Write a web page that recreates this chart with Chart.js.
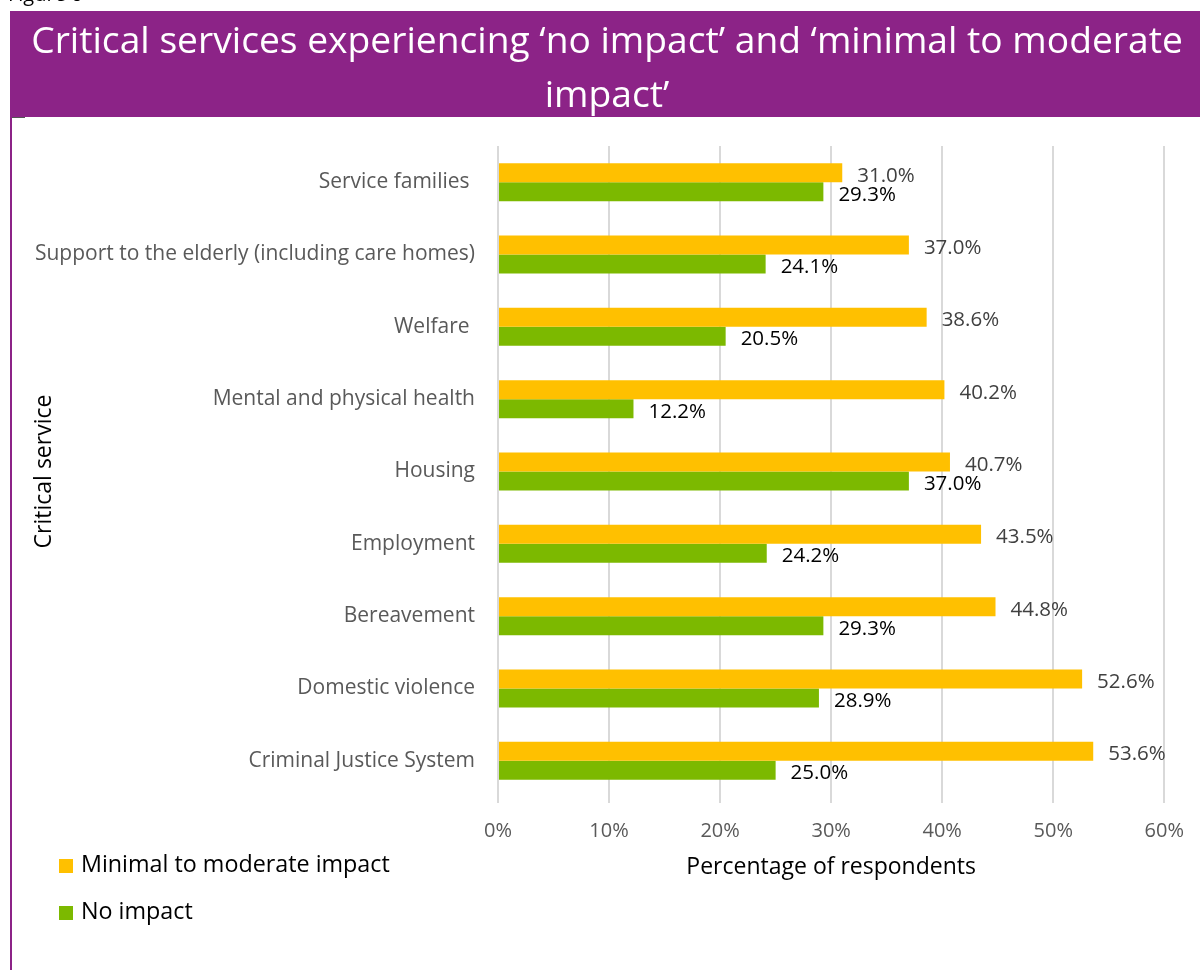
<!DOCTYPE html>
<html>
<head>
<meta charset="utf-8">
<script src="https://cdn.jsdelivr.net/npm/chart.js@4"></script>
<style>
  html, body { margin: 0; padding: 0; background: #fff; overflow: hidden; }
  body { width: 1200px; height: 970px; position: relative; font-family: "Open Sans", sans-serif; }
  #caption { position: absolute; left: 8px; top: -16px; font-size: 20px; line-height: 20px; color: #000; z-index: 1; }
  #header {
    position: absolute; left: 4px; top: 11px; width: 1206px; height: 106px;
    background: #8C2387; color: #fff; text-align: center;
    font-size: 37.2px; line-height: 54px; padding-top: 1px; box-sizing: border-box; z-index: 2;
  }
  #headerPad { position: absolute; left: 0; top: 0; width: 10px; height: 117px; background: #fff; z-index: 3; }
  #leftRule { position: absolute; left: 10px; top: 117px; width: 2px; height: 853px; background: #8C2387; z-index: 2; }
  #stub { position: absolute; left: 12px; top: 117px; width: 13px; height: 1px; background: #555; z-index: 2; }
  #chart { position: absolute; left: 0; top: 0; }
  #legend { position: absolute; left: 59px; top: 848px; z-index: 2; }
  .item { height: 30px; margin-bottom: 17px; font-size: 23.3px; line-height: 30px; color: #000; white-space: nowrap; }
  .swatch { display: inline-block; width: 14px; height: 14px; margin-right: 8px; vertical-align: -1px; }
</style>
</head>
<body>
<div id="caption">Figure 6</div>
<div id="header">Critical services experiencing ‘no impact’ and ‘minimal to moderate<br>impact’</div>
<div id="headerPad"></div>
<div id="leftRule"></div>
<div id="stub"></div>
<canvas id="chart" width="1200" height="970"></canvas>
<div id="legend"></div>
<script>
const categories = [
  'Service families ',
  'Support to the elderly (including care homes)',
  'Welfare ',
  'Mental and physical health',
  'Housing',
  'Employment',
  'Bereavement',
  'Domestic violence',
  'Criminal Justice System'
];
const minimalImpact = [31.0, 37.0, 38.6, 40.2, 40.7, 43.5, 44.8, 52.6, 53.6];
const noImpact = [29.3, 24.1, 20.5, 12.2, 37.0, 24.2, 29.3, 28.9, 25.0];
const seriesNames = ['Minimal to moderate impact', 'No impact'];
const seriesColours = ['#FFC000', '#7CB900'];
const labelColours = ['#404040', '#000000'];

// value text just past the end of each bar
const valueLabels = {
  id: 'valueLabels',
  afterDatasetsDraw(chart) {
    const ctx = chart.ctx;
    ctx.save();
    ctx.font = '20.5px "Open Sans"';
    ctx.textAlign = 'left';
    ctx.textBaseline = 'middle';
    chart.data.datasets.forEach((ds, i) => {
      ctx.fillStyle = labelColours[i];
      chart.getDatasetMeta(i).data.forEach((bar, j) => {
        ctx.fillText(ds.data[j].toFixed(1) + '%', bar.x + 15, bar.y + 3);
      });
    });
    ctx.restore();
  }
};

const chart = new Chart(document.getElementById('chart'), {
  type: 'bar',
  data: {
    labels: categories,
    datasets: [
      { label: seriesNames[0], data: minimalImpact, backgroundColor: seriesColours[0] },
      { label: seriesNames[1], data: noImpact, backgroundColor: seriesColours[1] }
    ]
  },
  options: {
    indexAxis: 'y',
    responsive: false,
    animation: false,
    devicePixelRatio: 1,
    categoryPercentage: 0.525,
    barPercentage: 1,
    layout: { padding: { left: 0, top: 146, right: 35, bottom: 0 } },
    plugins: { legend: { display: false }, tooltip: { enabled: false } },
    scales: {
      x: {
        min: 0,
        max: 60,
        afterFit: s => { s.height = 173; },
        ticks: {
          stepSize: 10,
          padding: 16,
          color: '#595959',
          font: { family: 'Open Sans', size: 20 },
          callback: v => v + '%'
        },
        grid: { color: '#D9D9D9', lineWidth: 2, drawTicks: true, tickLength: 6, tickColor: '#D9D9D9' },
        border: { display: false },
        title: {
          display: true,
          text: 'Percentage of respondents',
          color: '#000',
          font: { family: 'Open Sans', size: 23 },
          padding: { top: 0, bottom: 89 }
        }
      },
      y: {
        afterFit: s => { s.width = 498; },
        ticks: {
          padding: 23,
          color: '#595959',
          font: { family: 'Open Sans', size: 21 }
        },
        grid: { display: false, drawTicks: false },
        border: { display: false },
        title: {
          display: true,
          text: 'Critical service',
          color: '#000',
          font: { family: 'Open Sans', size: 23 },
          padding: { top: 31, bottom: 0 }
        }
      }
    }
  },
  plugins: [valueLabels]
});

// legend stacked below the category labels
const legend = document.getElementById('legend');
chart.data.datasets.forEach(ds => {
  const item = document.createElement('div');
  item.className = 'item';
  const sw = document.createElement('span');
  sw.className = 'swatch';
  sw.style.background = ds.backgroundColor;
  item.appendChild(sw);
  item.appendChild(document.createTextNode(ds.label));
  legend.appendChild(item);
});
</script>
</body>
</html>
